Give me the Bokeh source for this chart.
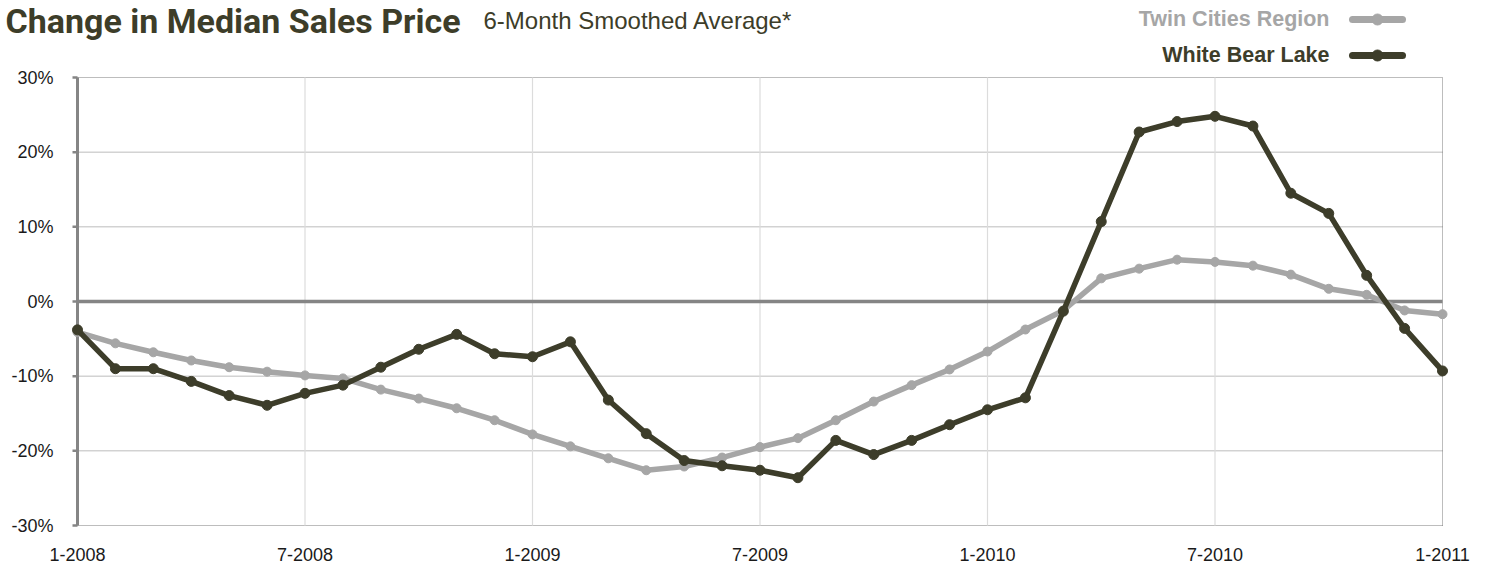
from bokeh.plotting import figure
from bokeh.models import Range1d, FixedTicker, Label
from bokeh.embed import file_html
from bokeh.resources import INLINE
from bokeh.core.properties import value

# ---------------- data ----------------
months = [
    "1-2008", "2-2008", "3-2008", "4-2008", "5-2008", "6-2008", "7-2008", "8-2008", "9-2008",
    "10-2008", "11-2008", "12-2008", "1-2009", "2-2009", "3-2009", "4-2009", "5-2009", "6-2009",
    "7-2009", "8-2009", "9-2009", "10-2009", "11-2009", "12-2009", "1-2010", "2-2010", "3-2010",
    "4-2010", "5-2010", "6-2010", "7-2010", "8-2010", "9-2010", "10-2010", "11-2010", "12-2010",
    "1-2011",
]
twin_cities = [
    -4.1, -5.6, -6.8, -7.9, -8.8, -9.4, -9.9, -10.3, -11.8, -13.0, -14.3, -15.9,
    -17.8, -19.4, -21.0, -22.6, -22.1, -20.9, -19.5, -18.3, -15.9, -13.4, -11.2, -9.1,
    -6.7, -3.75, -1.2, 3.1, 4.4, 5.6, 5.3, 4.8, 3.6, 1.7, 0.9, -1.2, -1.7,
]
white_bear_lake = [
    -3.8, -9.0, -9.0, -10.7, -12.6, -13.9, -12.3, -11.2, -8.8, -6.4, -4.4, -7.0,
    -7.4, -5.4, -13.2, -17.7, -21.3, -22.0, -22.6, -23.6, -18.6, -20.5, -18.6, -16.5,
    -14.5, -12.9, -1.3, 10.7, 22.7, 24.1, 24.8, 23.5, 14.5, 11.8, 3.5, -3.6, -9.3,
]
x_tick_idx = [0, 6, 12, 18, 24, 30, 36]
y_ticks = [-30, -20, -10, 0, 10, 20, 30]
y_tick_labels = [f"{v}%" for v in y_ticks]
series_names = ["Twin Cities Region", "White Bear Lake"]
title_text = "Change in Median Sales Price"
subtitle_text = "6-Month Smoothed Average*"

# ---------------- style ----------------
GRAY = "#a6a6a6"
DARK = "#3d3d2a"
AXIS = "#858585"
GRID = "#7a7a7a"
FONT = "Liberation Sans"

n = len(months)
x = list(range(n))

# layout geometry (screen pixels of the picture)
OX, OY = 0, 0                    # canvas origin in the picture
FRAME_W, FRAME_H = 1480, 540
X0_PX, X1_PX = 77, 1442          # first / last month
YTOP_PX, YBOT_PX = 77, 525       # 30% / -30%
span_months = n - 1
px_per_month = (X1_PX - X0_PX) / span_months
px_per_pct = (YBOT_PX - YTOP_PX) / (y_ticks[-1] - y_ticks[0])

x_start = -(X0_PX - OX) / px_per_month
x_end = x_start + FRAME_W / px_per_month
y_start = y_ticks[0] - (OY + FRAME_H - YBOT_PX) / px_per_pct
y_end = y_start + FRAME_H / px_per_pct


def dx(px):  # picture px -> data x
    return x_start + (px - OX) / px_per_month


def dy(py):  # picture px -> data y
    return y_end - (py - OY) / px_per_pct


def lx(px):  # picture px -> label screen x (frame-relative)
    return px - OX


def ly(py):  # picture px -> label screen y (from frame bottom)
    return FRAME_H - (py - OY)


p = figure(
    frame_width=FRAME_W, frame_height=FRAME_H,
    x_range=Range1d(x_start, x_end), y_range=Range1d(y_start, y_end),
    min_border_left=0, min_border_right=0, min_border_top=0, min_border_bottom=0,
    output_backend="svg", toolbar_location=None,
)
p.outline_line_color = None
p.xgrid.visible = False
p.ygrid.visible = False
p.yaxis.visible = False

# x axis
xa = p.xaxis[0]
xa.ticker = FixedTicker(ticks=x_tick_idx)
xa.major_label_overrides = {i: months[i] for i in x_tick_idx}
xa.axis_line_color = None
xa.major_tick_line_color = None
xa.minor_tick_line_color = None
xa.major_tick_out = 0
xa.major_tick_in = 0
xa.major_label_text_font = FONT
xa.major_label_text_font_size = "18px"
xa.major_label_text_color = "#1a1a1a"
xa.major_label_standoff = 7

# y tick labels (left of the axis line)
p.text(x=[dx(53)] * len(y_ticks), y=y_ticks, text=y_tick_labels,
       text_align="right", text_baseline="middle", text_font=value(FONT),
       text_font_size="18px", text_color="#1a1a1a")

# grid lines (drawn within the data extent)
hy = [v for v in y_ticks if v != 0]
p.segment(x0=[0] * len(hy), x1=[span_months] * len(hy), y0=hy, y1=hy,
          line_color=GRID, line_width=1, line_dash="1 1")
vx = [i for i in x_tick_idx if 0 < i < span_months]
p.segment(x0=vx, x1=vx, y0=[y_ticks[0]] * len(vx), y1=[y_ticks[-1]] * len(vx),
          line_color="#dcdcdc", line_width=1.2)
p.segment(x0=[span_months], x1=[span_months], y0=[y_ticks[0]], y1=[y_ticks[-1]],
          line_color=GRID, line_width=1, line_dash="1 1")

# y-axis line and ticks
tick_len = 5 / px_per_month
p.segment(x0=[-tick_len] * len(y_ticks), x1=[0] * len(y_ticks), y0=y_ticks, y1=y_ticks,
          line_color=AXIS, line_width=2.5)
p.segment(x0=[0], x1=[0], y0=[y_ticks[0]], y1=[y_ticks[-1]], line_color=AXIS, line_width=3)
# zero line
p.segment(x0=[0], x1=[span_months], y0=[0], y1=[0], line_color=AXIS, line_width=3.5)

# series
p.line(x, twin_cities, line_color=GRAY, line_width=5.5, line_join="round", line_cap="round")
p.scatter(x, twin_cities, size=9, fill_color=GRAY, line_color=GRAY)
p.line(x, white_bear_lake, line_color=DARK, line_width=5.5, line_join="round", line_cap="round")
p.scatter(x, white_bear_lake, size=10, fill_color=DARK, line_color=DARK)

# title + subtitle
p.add_layout(Label(x=lx(5), y=ly(0.5), x_units="screen", y_units="screen",
                   text=title_text, text_font="Roboto", text_font_style="bold",
                   text_font_size="34px", text_color="#3d3d29", text_baseline="top"))
p.add_layout(Label(x=lx(483), y=ly(19.5), x_units="screen", y_units="screen",
                   text=subtitle_text, text_font=FONT, text_font_size="24px",
                   text_color="#3d3d29", text_baseline="middle"))

# legend (text to the left of the key)
legend_rows = [(series_names[0], GRAY, 19), (series_names[1], DARK, 55)]
for name, col, mid in legend_rows:
    p.add_layout(Label(x=lx(1329), y=ly(mid - 1), x_units="screen", y_units="screen",
                       text=name, text_font=FONT, text_font_style="bold", text_font_size="21.5px",
                       text_color=col, text_align="right", text_baseline="middle"))
    p.segment(x0=[dx(1352)], x1=[dx(1402)], y0=[dy(mid)], y1=[dy(mid)],
              line_color=col, line_width=7, line_cap="round")
    p.scatter([dx(1377)], [dy(mid)], size=11, fill_color=col, line_color=col)

open("out.html", "w").write(file_html(p, INLINE))
